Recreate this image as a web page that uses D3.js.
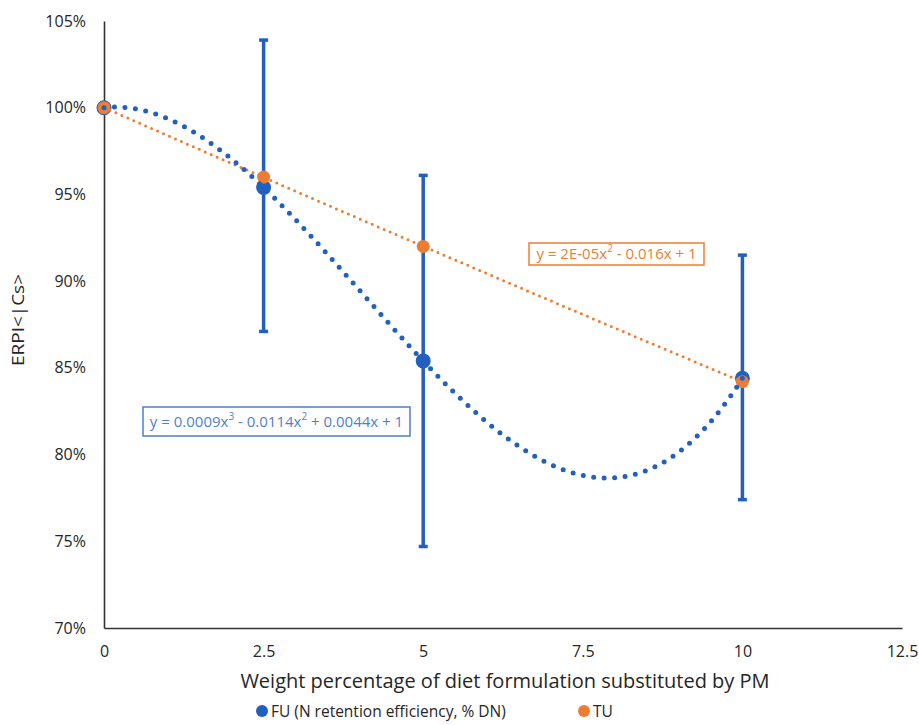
<!DOCTYPE html>
<html>
<head>
	<meta charset="utf-8">
	<title>ERPI chart</title>
	<script src="https://cdnjs.cloudflare.com/ajax/libs/d3/7.8.5/d3.min.js"></script>
	<style>
		body { margin: 0; background: #fff; }
		text { font-family: "Open Sans", "Noto Sans", sans-serif; fill: #262626; }
	</style>
</head>
<body>
	<div id="chart"></div>
	<script type="text/javascript">
		// data
		var doses = [0, 2.5, 5, 10];
		var fuValues = [1.000, 0.954, 0.854, 0.844];
		var fuUpper = [1.000, 1.039, 0.961, 0.915];
		var fuLower = [1.000, 0.871, 0.747, 0.774];
		var tuValues = [1.000, 0.960, 0.920, 0.842];
		var xTicks = [0, 2.5, 5, 7.5, 10, 12.5];
		var yTicks = [0.70, 0.75, 0.80, 0.85, 0.90, 0.95, 1.00, 1.05];
		var fuLabel = "FU (N retention efficiency, % DN)";
		var tuLabel = "TU";
		var blue = "#2160c0";
		var orange = "#ed7d31";

		var width = 919, height = 725;

		var svg = d3.select("#chart")
				.append("svg")
				.attr("width", width)
				.attr("height", height);

		var x = d3.scaleLinear().domain([0, 12.5]).range([104, 902]);
		var y = d3.scaleLinear().domain([0.70, 1.05]).range([628, 21]);

		// least squares polynomial fit (like Excel trendline)
		function polyFit(xs, ys, order) {
			var n = order + 1;
			var m = [];
			for (var r = 0; r < n; r++) {
				m.push([]);
				for (var c = 0; c <= n; c++) m[r].push(0);
			}
			xs.forEach(function(xv, k) {
				for (var r = 0; r < n; r++) {
					for (var c = 0; c < n; c++) m[r][c] += Math.pow(xv, r + c);
					m[r][n] += ys[k] * Math.pow(xv, r);
				}
			});
			for (var i = 0; i < n; i++) {
				var p = i;
				for (var j = i + 1; j < n; j++) if (Math.abs(m[j][i]) > Math.abs(m[p][i])) p = j;
				var t = m[i]; m[i] = m[p]; m[p] = t;
				for (var j = i + 1; j < n; j++) {
					var f = m[j][i] / m[i][i];
					for (var c = i; c <= n; c++) m[j][c] -= f * m[i][c];
				}
			}
			var coef = new Array(n).fill(0);
			for (var i = n - 1; i >= 0; i--) {
				var s = m[i][n];
				for (var c = i + 1; c < n; c++) s -= m[i][c] * coef[c];
				coef[i] = s / m[i][i];
			}
			return function(xv) {
				return coef.reduce(function(acc, a, k) { return acc + a * Math.pow(xv, k); }, 0);
			};
		}

		var fuFit = polyFit(doses, fuValues, 3);
		var tuFit = polyFit(doses, tuValues, 2);
		var xs = d3.range(0, 10.001, 0.05);

		// axes
		var yAxis = d3.axisLeft(y).tickValues(yTicks).tickSize(0).tickPadding(18)
				.tickFormat(d3.format(".0%"));
		var gy = svg.append("g").attr("transform", "translate(" + x(0) + ",0)").call(yAxis);
		gy.select(".domain").attr("stroke", "#333").attr("stroke-width", 1.6);
		gy.selectAll("text").style("font-size", "16px").attr("fill", "#262626");

		var xAxis = d3.axisBottom(x).tickValues(xTicks).tickSize(0).tickPadding(18)
				.tickFormat(function(d) { return d; });
		var gx = svg.append("g").attr("transform", "translate(0," + y(0.70) + ")").call(xAxis);
		gx.select(".domain").attr("stroke", "#333").attr("stroke-width", 1.6);
		gx.selectAll("text").style("font-size", "16px").attr("fill", "#262626");

		// axis titles
		svg.append("text")
			.attr("x", 505).attr("y", 688)
			.attr("text-anchor", "middle")
			.style("font-size", "20px")
			.text("Weight percentage of diet formulation substituted by PM");

		svg.append("text")
			.attr("transform", "translate(24,320) rotate(-90)")
			.attr("text-anchor", "middle")
			.attr("textLength", 92)
			.attr("lengthAdjust", "spacingAndGlyphs")
			.style("font-size", "17px")
			.text("ERPI<|Cs>");

		// error bars
		var bars = svg.append("g").attr("stroke", blue).attr("stroke-width", 3.5);
		doses.forEach(function(d, i) {
			if (fuUpper[i] === fuLower[i]) return;
			bars.append("line").attr("x1", x(d)).attr("x2", x(d)).attr("y1", y(fuUpper[i])).attr("y2", y(fuLower[i]));
			[fuUpper[i], fuLower[i]].forEach(function(v) {
				bars.append("line").attr("x1", x(d) - 4.5).attr("x2", x(d) + 4.5).attr("y1", y(v)).attr("y2", y(v));
			});
		});

		// markers
		svg.append("g").selectAll("circle")
			.data(doses).enter()
			.append("circle")
			.attr("cx", function(d) { return x(d); })
			.attr("cy", function(d, i) { return y(fuValues[i]); })
			.attr("r", 7.5)
			.attr("fill", blue);

		svg.append("g").selectAll("circle")
			.data(doses).enter()
			.append("circle")
			.attr("cx", function(d) { return x(d); })
			.attr("cy", function(d, i) { return y(tuValues[i]); })
			.attr("r", 6.5)
			.attr("fill", orange);

		// trendlines
		var line = d3.line().x(function(d) { return x(d[0]); }).y(function(d) { return y(d[1]); });

		svg.append("path")
			.attr("d", line(xs.map(function(v) { return [v, tuFit(v)]; })))
			.attr("fill", "none")
			.attr("stroke", orange)
			.attr("stroke-width", 3)
			.attr("stroke-linecap", "round")
			.attr("stroke-dasharray", "0,6.5");

		svg.append("path")
			.attr("d", line(xs.map(function(v) { return [v, fuFit(v)]; })))
			.attr("fill", "none")
			.attr("stroke", blue)
			.attr("stroke-width", 5)
			.attr("stroke-linecap", "round")
			.attr("stroke-dasharray", "0,10.5");

		// equation labels
		function eqBox(cx, cy, w, h, color, parts) {
			var g = svg.append("g");
			g.append("rect").attr("x", cx).attr("y", cy).attr("width", w).attr("height", h)
				.attr("fill", "#fff").attr("stroke", color).attr("stroke-width", 1.5);
			var t = g.append("text").attr("x", cx + w / 2).attr("y", cy + h / 2 + 5)
				.attr("text-anchor", "middle").style("font-size", "15px").style("fill", color);
			parts.forEach(function(p) {
				var s = t.append("tspan").text(p[0]);
				if (p[1]) s.attr("baseline-shift", "super").style("font-size", "10px");
			});
		}

		eqBox(143, 407, 267, 29, "#4f7fcf", [["y = 0.0009x"], ["3", 1], [" - 0.0114x"], ["2", 1], [" + 0.0044x + 1"]]);
		eqBox(529, 243, 175, 22, orange, [["y = 2E-05x"], ["2", 1], [" - 0.016x + 1"]]);

		// legend
		var legend = svg.append("g").attr("transform", "translate(0,711)");
		legend.append("circle").attr("cx", 262).attr("cy", 0).attr("r", 6).attr("fill", blue);
		legend.append("text").attr("x", 271).attr("y", 5.5).style("font-size", "15.5px").text(fuLabel);
		legend.append("circle").attr("cx", 584).attr("cy", 0).attr("r", 6).attr("fill", orange);
		legend.append("text").attr("x", 593).attr("y", 5.5).style("font-size", "15.5px").text(tuLabel);
	</script>
</body>
</html>
